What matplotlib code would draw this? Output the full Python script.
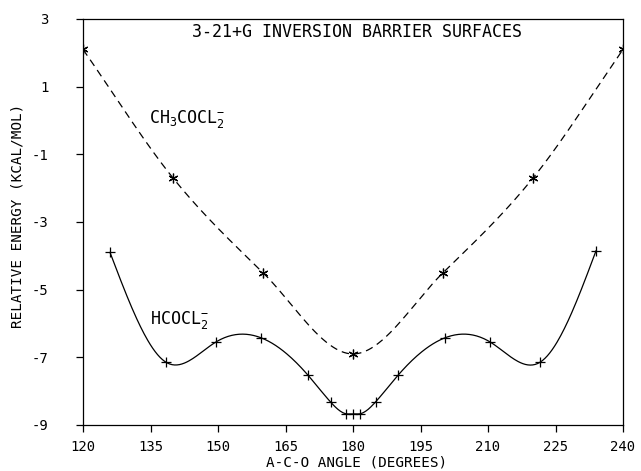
import numpy as np
import matplotlib.pyplot as plt

# ==============================
# Datos
# ==============================
ang_ch3 = [120, 140, 160, 180, 200, 220, 240]
e_ch3 = [2.1, -1.7, -4.5, -6.9, -4.5, -1.7, 2.1]

ang_h = [126, 138.5, 149.5, 159.5, 170, 175, 178.5, 180, 181.5, 185, 190,
         200.5, 210.5, 221.5, 234]
e_h = [-3.9, -7.15, -6.55, -6.42, -7.53, -8.32, -8.67, -8.67, -8.67, -8.32,
       -7.53, -6.42, -6.55, -7.15, -3.85]

xticks = [120, 135, 150, 165, 180, 195, 210, 225, 240]
yticks = [3, 1, -1, -3, -5, -7, -9]


# ==============================
# Curvas suaves (solo para el trazo)
# ==============================
def spline(x, y, n=400):
    # spline cubico natural
    x = np.asarray(x, float)
    y = np.asarray(y, float)
    m = len(x)
    h = np.diff(x)
    A = np.zeros((m, m))
    b = np.zeros(m)
    A[0, 0] = A[-1, -1] = 1
    for i in range(1, m - 1):
        A[i, i - 1] = h[i - 1]
        A[i, i] = 2 * (h[i - 1] + h[i])
        A[i, i + 1] = h[i]
        b[i] = 3 * ((y[i + 1] - y[i]) / h[i] - (y[i] - y[i - 1]) / h[i - 1])
    c = np.linalg.solve(A, b)
    xs = np.linspace(x[0], x[-1], n)
    k = np.clip(np.searchsorted(x, xs) - 1, 0, m - 2)
    dx = xs - x[k]
    bb = (y[k + 1] - y[k]) / h[k] - h[k] * (2 * c[k] + c[k + 1]) / 3
    dd = (c[k + 1] - c[k]) / (3 * h[k])
    return xs, y[k] + bb * dx + c[k] * dx ** 2 + dd * dx ** 3


def hermite(x, y, n=400):
    # Catmull-Rom
    x = np.asarray(x, float)
    y = np.asarray(y, float)
    t = np.gradient(y, x)
    xs = np.linspace(x[0], x[-1], n)
    k = np.clip(np.searchsorted(x, xs) - 1, 0, len(x) - 2)
    h = x[k + 1] - x[k]
    s = (xs - x[k]) / h
    h00 = 2 * s ** 3 - 3 * s ** 2 + 1
    h10 = s ** 3 - 2 * s ** 2 + s
    h01 = -2 * s ** 3 + 3 * s ** 2
    h11 = s ** 3 - s ** 2
    return xs, h00 * y[k] + h10 * h * t[k] + h01 * y[k + 1] + h11 * h * t[k + 1]


plt.rcParams['font.family'] = 'DejaVu Sans Mono'
plt.rcParams['mathtext.fontset'] = 'custom'
plt.rcParams['mathtext.rm'] = 'DejaVu Sans Mono'
plt.rcParams['mathtext.it'] = 'DejaVu Sans Mono'
plt.rcParams['mathtext.default'] = 'rm'
plt.rcParams['axes.unicode_minus'] = False

fig = plt.figure(figsize=(6.41, 4.71), dpi=100)
ax = fig.add_axes([0.1295, 0.0977, 0.8425, 0.862])

xs, ys = hermite(ang_ch3, e_ch3)
ax.plot(xs, ys, 'k--', lw=0.9, dashes=(6, 4))
ax.plot(ang_ch3, e_ch3, 'k', ls='none', marker=(6, 2, 0), ms=7, mew=0.9)

xs, ys = spline(ang_h, e_h)
ax.plot(xs, ys, 'k-', lw=0.9)
ax.plot(ang_h, e_h, 'k', ls='none', marker='+', ms=7.5, mew=0.9)

ax.set_xlim(120, 240)
ax.set_ylim(-9, 3)
ax.set_xticks(xticks)
ax.set_yticks(yticks)
ax.tick_params(axis='both', direction='out', length=5, width=0.9,
               labelsize=10)
ax.tick_params(axis='x', pad=6)
ax.tick_params(axis='y', pad=20)
for s in ax.spines.values():
    s.set_linewidth(0.9)

ax.text(144.2, 2.47, '3-21+G INVERSION BARRIER SURFACES', ha='left',
        va='baseline', fontsize=12)
ax.text(134.7, -0.08, r'CH$_3$COCL$_2^{-}$', ha='left', va='baseline',
        fontsize=12)
ax.text(134.9, -6.02, r'HCOCL$_2^{-}$', ha='left', va='baseline',
        fontsize=12)

fig.text(357 / 641, 1 - 463 / 471, 'A-C-O ANGLE (DEGREES)', ha='center',
         va='center', fontsize=10.3)
fig.text(18 / 641, 1 - 215.5 / 471, 'RELATIVE ENERGY (KCAL/MOL)',
         ha='center', va='center', rotation=90, fontsize=10.3)

fig.savefig('out.png', dpi=100)
